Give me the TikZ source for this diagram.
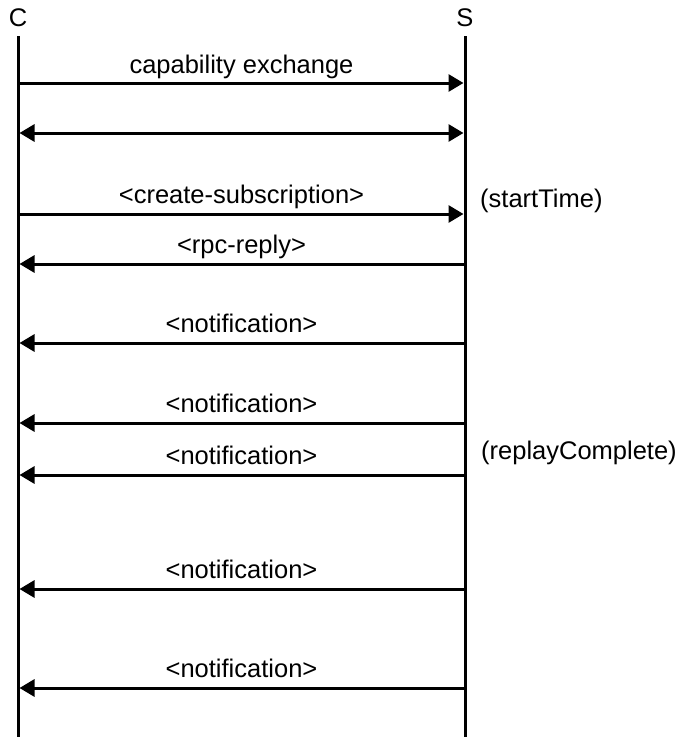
\documentclass[tikz,border=0pt]{standalone}
\usepackage{fontspec}
\setmainfont{Liberation Sans}
\usetikzlibrary{arrows.meta}
\begin{document}
\begin{tikzpicture}[x=1pt,y=-1pt,
  life/.style={line width=3pt},
  msg/.style={line width=3pt,-{Triangle[length=15pt,width=17pt]}},
  bimsg/.style={line width=3pt,{Triangle[length=15pt,width=17pt]}-{Triangle[length=15pt,width=17pt]}},
  lbl/.style={font=\fontsize{25.5}{29}\selectfont,inner sep=0pt,anchor=base},
  note/.style={font=\fontsize{25.5}{29}\selectfont,inner sep=0pt,anchor=base west}]
\useasboundingbox (0,0) rectangle (678,737);
\node[lbl] (C) at (18,26) {C};
\node[lbl] (S) at (465,26) {S};
\coordinate (ctop) at (18,36);
\coordinate (cbot) at (18,737);
\coordinate (stop) at (465,36);
\coordinate (sbot) at (465,737);
\draw[life] (ctop) -- (cbot);
\draw[life] (stop) -- (sbot);
\foreach \i/\y in {1/83,2/133,3/214,4/264,5/343,6/423,7/475,8/589,9/688}{
  \coordinate (c\i) at (19.5,\y);
  \coordinate (s\i) at (463.5,\y);
}
\draw[msg] (c1) -- (s1) node[lbl,pos=0.5,yshift=10pt] (m1) {capability exchange};
\draw[bimsg] (c2) -- (s2);
\draw[msg] (c3) -- (s3) node[lbl,pos=0.5,yshift=11pt] (m3) {<create-subscription>};
\draw[msg] (s4) -- (c4) node[lbl,pos=0.5,yshift=11pt] (m4) {<rpc-reply>};
\draw[msg] (s5) -- (c5) node[lbl,pos=0.5,yshift=11pt] (m5) {<notification>};
\draw[msg] (s6) -- (c6) node[lbl,pos=0.5,yshift=11pt] (m6) {<notification>};
\draw[msg] (s7) -- (c7) node[lbl,pos=0.5,yshift=11pt] (m7) {<notification>};
\draw[msg] (s8) -- (c8) node[lbl,pos=0.5,yshift=11pt] (m8) {<notification>};
\draw[msg] (s9) -- (c9) node[lbl,pos=0.5,yshift=11pt] (m9) {<notification>};
\node[note] (n1) at (480,207) {(startTime)};
\node[note] (n2) at (481,459) {(replayComplete)};
\end{tikzpicture}
\end{document}
